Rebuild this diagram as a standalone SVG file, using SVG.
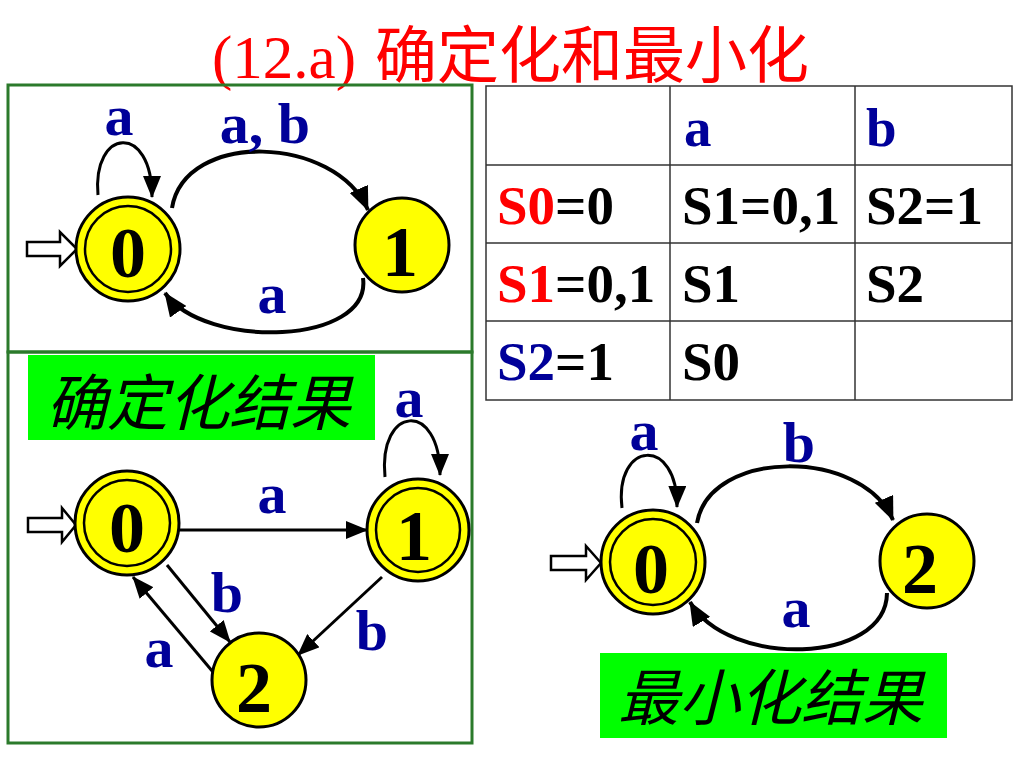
<svg xmlns="http://www.w3.org/2000/svg" width="1024" height="768" viewBox="0 0 1024 768">
<defs>
<marker id="ah" viewBox="0 0 24 20" refX="23" refY="10" markerWidth="24" markerHeight="20" markerUnits="userSpaceOnUse" orient="auto">
<path d="M0,0 L24,10 L0,20 Z" fill="#000"/>
</marker>
<marker id="ahs" viewBox="0 0 22 18" refX="21" refY="9" markerWidth="22" markerHeight="18" markerUnits="userSpaceOnUse" orient="auto">
<path d="M0,0 L22,9 L0,18 Z" fill="#000"/>
</marker>
</defs>
<style>
.edge{fill:none;stroke:#000;stroke-width:4;marker-end:url(#ah)}
.edge2{fill:none;stroke:#000;stroke-width:3;marker-end:url(#ahs)}
.st{fill:#ffff00;stroke:#000;stroke-width:3}
.inner{fill:none;stroke:#000;stroke-width:2.5}
.num{font-family:"Liberation Serif",serif;font-weight:bold;font-size:72px;fill:#000;text-anchor:middle}
.lbl{font-family:"Liberation Serif",serif;font-weight:bold;font-size:58px;fill:#000099;text-anchor:middle}
.start{fill:#fff;stroke:#000;stroke-width:2.5}
.frame{fill:none;stroke:#2b7a2b;stroke-width:3}
.gbox{fill:#00ff00}
.cjk{font-family:"Noto Sans CJK SC","Noto Sans",sans-serif;font-style:italic;font-size:61px;fill:#000}
.tbl{fill:none;stroke:#333;stroke-width:1.5}
.tt{font-family:"Liberation Serif",serif;font-weight:bold;font-size:55px;fill:#000}
</style>
<rect width="1024" height="768" fill="#fff"/>
<text x="212" y="78" fill="#ff0000"><tspan font-family="Liberation Serif,serif" font-size="61">(12.a)</tspan><tspan x="375" font-family="Noto Sans CJK SC,sans-serif" font-size="62">确定化和最小化</tspan></text>

<rect class="frame" x="8" y="85" width="464" height="267"/>
<rect class="frame" x="8" y="352" width="464" height="391"/>

<!-- top graph -->
<g id="top-connectors">
<path class="edge2" d="M98,195 C92,128 152,122 152,197"/>
<path class="edge" d="M172,208 C185,130 335,135 368,210"/>
<path class="edge" d="M363,278 C372,345 205,350 165,293"/>
<polygon class="start" points="27,242 60,242 60,232 77,249 60,266 60,256 27,256"/>
</g>
<g id="top-s0"><circle class="st" cx="128" cy="249" r="52"/><circle class="inner" cx="128" cy="249" r="43"/><text class="num" x="128" y="277">0</text></g>
<g id="top-s1"><circle class="st" cx="402" cy="245" r="47"/><text class="num" x="400" y="276">1</text></g>
<g id="top-labels">
<text class="lbl" x="119" y="135">a</text>
<text class="lbl" x="265" y="143">a, b</text>
<text class="lbl" x="272" y="313">a</text>
</g>

<!-- determinized -->
<g id="det-title"><rect class="gbox" x="28" y="355" width="347" height="85"/><text class="cjk" x="46" y="425">确定化结果</text></g>
<g id="det-connectors">
<path class="edge2" d="M385,477 C378,405 440,400 440,475"/>
<path class="edge2" d="M177,530 L367,530"/>
<path class="edge2" d="M167,565 L230,642"/>
<path class="edge2" d="M213,672 L133,577"/>
<path class="edge2" d="M382,577 L298,655"/>
<polygon class="start" points="28,518 62,518 62,508 76,525 62,542 62,532 28,532"/>
</g>
<g id="det-s0"><circle class="st" cx="127" cy="523" r="52"/><circle class="inner" cx="127" cy="523" r="43"/><text class="num" x="127" y="552">0</text></g>
<g id="det-s1"><circle class="st" cx="418" cy="530" r="51"/><circle class="inner" cx="418" cy="530" r="42"/><text class="num" x="414" y="560">1</text></g>
<g id="det-s2"><circle class="st" cx="259" cy="680" r="47"/><text class="num" x="254" y="712">2</text></g>
<g id="det-labels">
<text class="lbl" x="409" y="417">a</text>
<text class="lbl" x="272" y="513">a</text>
<text class="lbl" x="227" y="612">b</text>
<text class="lbl" x="159" y="667">a</text>
<text class="lbl" x="372" y="650">b</text>
</g>

<!-- table -->
<g id="table">
<rect class="tbl" x="486" y="86" width="526" height="314"/>
<line class="tbl" x1="670" y1="86" x2="670" y2="400"/>
<line class="tbl" x1="855" y1="86" x2="855" y2="400"/>
<line class="tbl" x1="486" y1="165" x2="1012" y2="165"/>
<line class="tbl" x1="486" y1="243" x2="1012" y2="243"/>
<line class="tbl" x1="486" y1="321" x2="1012" y2="321"/>
<text class="tt" x="684" y="146" style="fill:#000099">a</text>
<text class="tt" x="866" y="146" style="fill:#000099">b</text>
<text class="tt" x="497" y="224"><tspan style="fill:#ff0000">S0</tspan>=0</text>
<text class="tt" x="682" y="224">S1=0,1</text>
<text class="tt" x="866" y="224">S2=1</text>
<text class="tt" x="497" y="302"><tspan style="fill:#ff0000">S1</tspan>=0,1</text>
<text class="tt" x="682" y="302">S1</text>
<text class="tt" x="866" y="302">S2</text>
<text class="tt" x="497" y="380"><tspan style="fill:#000099">S2</tspan>=1</text>
<text class="tt" x="682" y="380">S0</text>
</g>

<!-- minimized -->
<g id="min-connectors">
<path class="edge2" d="M622,508 C614,440 678,436 677,507"/>
<path class="edge" d="M697,523 C710,448 862,448 893,520"/>
<path class="edge" d="M887,593 C886,665 728,668 690,602"/>
<polygon class="start" points="551,556 586,556 586,546 601,563 586,580 586,570 551,570"/>
</g>
<g id="min-s0"><circle class="st" cx="653" cy="562" r="52"/><circle class="inner" cx="653" cy="562" r="43"/><text class="num" x="651" y="593">0</text></g>
<g id="min-s2"><circle class="st" cx="927" cy="561" r="47"/><text class="num" x="920" y="593">2</text></g>
<g id="min-labels">
<text class="lbl" x="644" y="450">a</text>
<text class="lbl" x="799" y="462">b</text>
<text class="lbl" x="796" y="627">a</text>
</g>
<g id="min-title"><rect class="gbox" x="600" y="653" width="347" height="85"/><text class="cjk" x="618" y="720">最小化结果</text></g>
</svg>
